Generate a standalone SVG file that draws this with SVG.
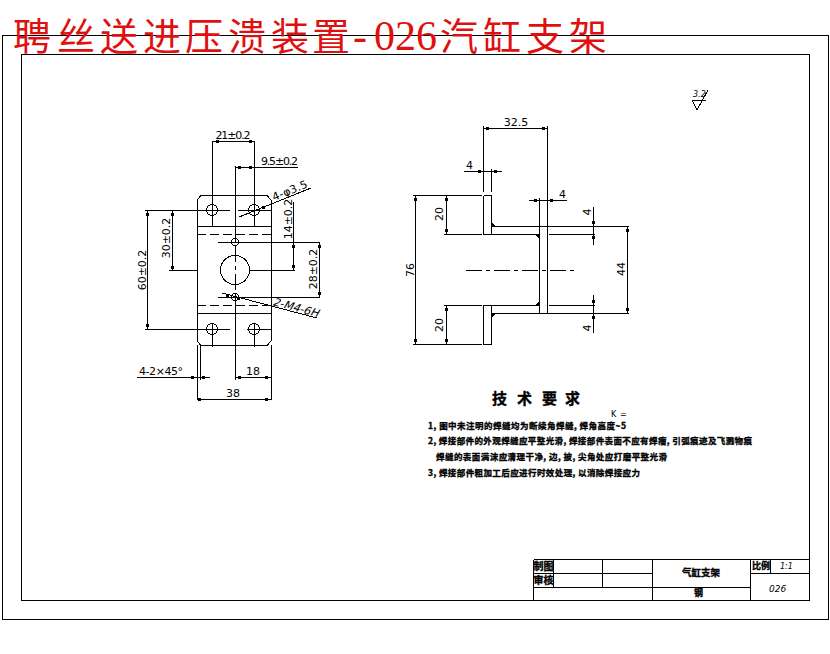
<svg xmlns="http://www.w3.org/2000/svg" width="830" height="654" viewBox="0 0 830 654" shape-rendering="crispEdges">
<style>
.l{fill:none;stroke:#000;stroke-width:1}
.t{fill:none;stroke:#000;stroke-width:1}
.da{fill:none;stroke:#000;stroke-width:1;stroke-dasharray:9 4}
.cl{fill:none;stroke:#000;stroke-width:1;stroke-dasharray:16 4 4 4}
.k{fill:none;stroke:#000;stroke-width:3}
.d{font-family:"DejaVu Sans",sans-serif;font-size:11px;fill:#000}
.z{font-family:"Noto Sans CJK SC",sans-serif;font-weight:700;fill:#000;stroke:#000;stroke-width:.35}
.s{fill:#000}
</style>
<rect width="830" height="654" fill="#fff"/>
<g id="frame"><rect class="l" x="2.500" y="35.500" width="826" height="584"/><rect class="l" x="21.500" y="54.500" width="788" height="546"/></g>
<g id="title"><text font-family="'Noto Sans CJK SC',serif" font-size="38" fill="#e01010" y="50" x="13 57 100 143 185 228 271 312">聘丝送进压溃装置</text><text font-family="'Liberation Serif',serif" font-size="42" fill="#e01010" y="50" x="353 374 395 416">-026</text><text font-family="'Noto Sans CJK SC',serif" font-size="38" fill="#e01010" y="50" x="440 483 526 569">汽缸支架</text></g>
<g id="front-view">
<path class="l" d="M201 195.500H267L271 200V341L267 345.500H201L197 341V200Z"/>
<path class="l" d="M197 226.500H271M197 313.500H271"/>
<path class="da" d="M197 234.500H271M197 305.500H271"/>
<circle class="t" cx="212" cy="210" r="5.500"/><circle class="t" cx="254" cy="210" r="5.500"/><circle class="t" cx="212" cy="329" r="5.500"/><circle class="t" cx="254" cy="329" r="5.500"/>
<circle class="t" cx="235" cy="242" r="3.500"/><circle class="t" cx="235" cy="297" r="3.500"/>
<circle class="t" cx="235" cy="270" r="14.500"/>
</g>
<g id="side-view">
<path class="l" d="M483.500 195.500H491.500V234M483.500 195.500V234.500H491.500M483.500 305.500H491.500V344.500H483.500ZM491.500 226.500H629M491.500 313.500H629M491.500 234.500H539M549 234.500H595M491.500 305.500H539M549 305.500H595M444 234.500H482M444 305.500H482M539.500 198V313.500M547.500 126V313.500"/>
<path class="cl" d="M466 270.500H577"/>
<path class="s" d="M491.500 222L496 226.500H491.500ZM535 234.500H539.500V239ZM535 305.500H539.500V301ZM491.500 313.500H496L491.500 318Z"/>
</g>
<g id="connectors">
<path class="t" d="M212.500 141V226M254.500 141V226M212.500 323V347M254.500 323V347M235.500 166V243M235.500 293V380M254.500 161V200M197.500 345V400M271.500 345V400M200.500 345V380"/>
<path class="cl" d="M235.500 246V293"/>
<path class="t" d="M212 141.500H254M235 167.500H298M145 210.500H230M238 210.500H272M145 329.500H230M247 329.500H272M169 270.500H197M249 270.500H295M218 242.500H320M218 297.500H320M147.500 210V329M172.500 210V270M293.500 202V270M319.500 242V297M137 377.500H210M235 377.500H271M197 399.500H271M239 217L311 188M222 293L317 318M413 195.500H482M413 344.500H482M415.500 195V344M446.500 195V234M446.500 305V344M627.500 226V313M593.500 207V245M593.500 295V333M483.500 126V192M491.500 169V192M483 128.500H547M464 171.500H502M529 200.500H567"/>
<path class="k" d="M216 141.500h3M249 141.500h3M238 167.500h3M249 167.500h3M145.500 214h3M170.500 214h3M170.500 267h3M145.500 325h3M291.500 246h3M291.500 266h3M317.500 246h3M317.500 293h3M238 377.500h3M265 377.500h3M191 377.500h3M202 377.500h3M198 399.500h3M265 399.500h3M262 207.500h3M226 295.500h3M237 298.500h3M486 128.500h3M542 128.500h3M478 171.500h3M494 171.500h3M534 200.500h3M550 200.500h3M413.500 199h3M413.500 340h3M444.500 199h3M444.500 230h3M444.500 309h3M444.500 340h3M625.500 230h3M625.500 309h3M592 222h3M592 237h3M592 301h3M592 317h3"/>
</g>
<g id="dims">
<text class="d" x="233" y="139" text-anchor="middle" textLength="35">21±0.2</text>
<text class="d" x="261" y="165" textLength="37">9.5±0.2</text>
<text class="d" transform="translate(274 201) rotate(-22)" textLength="37">4-φ3.5</text>
<text class="d" transform="translate(146 270) rotate(-90)" text-anchor="middle">60±0.2</text>
<text class="d" transform="translate(170 238) rotate(-90)" text-anchor="middle">30±0.2</text>
<text class="d" transform="translate(292 219) rotate(-90)" text-anchor="middle">14±0.2</text>
<text class="d" transform="translate(317 269) rotate(-90)" text-anchor="middle">28±0.2</text>
<text class="d" transform="translate(272 305) rotate(15) skewX(-15)" textLength="47">2-M4-6H</text>
<text class="d" x="139" y="375" textLength="44">4-2×45°</text>
<text class="d" x="253" y="375" text-anchor="middle">18</text>
<text class="d" x="233" y="397" text-anchor="middle">38</text>
<text class="d" x="516" y="126" text-anchor="middle">32.5</text>
<text class="d" x="466" y="169">4</text>
<text class="d" x="559" y="198">4</text>
<text class="d" transform="translate(414 270) rotate(-90)" text-anchor="middle">76</text>
<text class="d" transform="translate(443 214) rotate(-90)" text-anchor="middle">20</text>
<text class="d" transform="translate(443 325) rotate(-90)" text-anchor="middle">20</text>
<text class="d" transform="translate(625 269) rotate(-90)" text-anchor="middle">44</text>
<text class="d" transform="translate(591 212) rotate(-90)" text-anchor="middle">4</text>
<text class="d" transform="translate(591 328) rotate(-90)" text-anchor="middle">4</text>
</g>
<g id="roughness"><path class="t" d="M692 100H706M692 100L697 110L708 90"/><text font-family="'DejaVu Sans',sans-serif" font-size="8" font-style="italic" x="693" y="97">3.2</text></g>
<g id="notes">
<text class="z" font-size="15" y="404" x="492 517 542 565">技术要求</text>
<text font-family="'DejaVu Sans',sans-serif" font-size="8" x="611 616 620" y="417">K =</text>
<text class="z" font-size="8.500" x="428" y="429" textLength="198">1, 图中未注明的焊缝均为断续角焊缝, 焊角高度~5</text>
<text class="z" font-size="8.500" x="428" y="444" textLength="324">2, 焊接部件的外观焊缝应平整光滑, 焊接部件表面不应有焊瘤, 引弧痕迹及飞溅物痕</text>
<text class="z" font-size="8.500" x="436" y="460" textLength="231">焊缝的表面满沫应清理干净, 边, 披, 尖角处应打磨平整光滑</text>
<text class="z" font-size="8.500" x="428" y="476" textLength="212">3, 焊接部件粗加工后应进行时效处理, 以消除焊接应力</text>
</g>
<g id="title-block">
<path class="l" d="M533.500 559.500H809M533.500 559.500V600M533.500 573.500H652M533.500 587.500H750M750 573.500H809M553.500 559.500V587M602.500 559.500V587M652.500 559.500V600M750.500 559.500V600M770.500 559.500V573"/>
<text class="z" font-size="10" x="533.500" y="570">制图</text><text class="z" font-size="10" x="533.500" y="584">审核</text>
<text class="z" font-size="9.500" x="682" y="576">气缸支架</text><text class="z" font-size="9" x="694" y="596">钢</text>
<text class="z" font-size="9" x="752" y="569">比例</text>
<text font-family="'DejaVu Sans',sans-serif" font-size="8" font-style="italic" x="780" y="569">1:1</text>
<text font-family="'DejaVu Sans',sans-serif" font-size="9" font-style="italic" x="769" y="592">026</text>
</g>
</svg>
